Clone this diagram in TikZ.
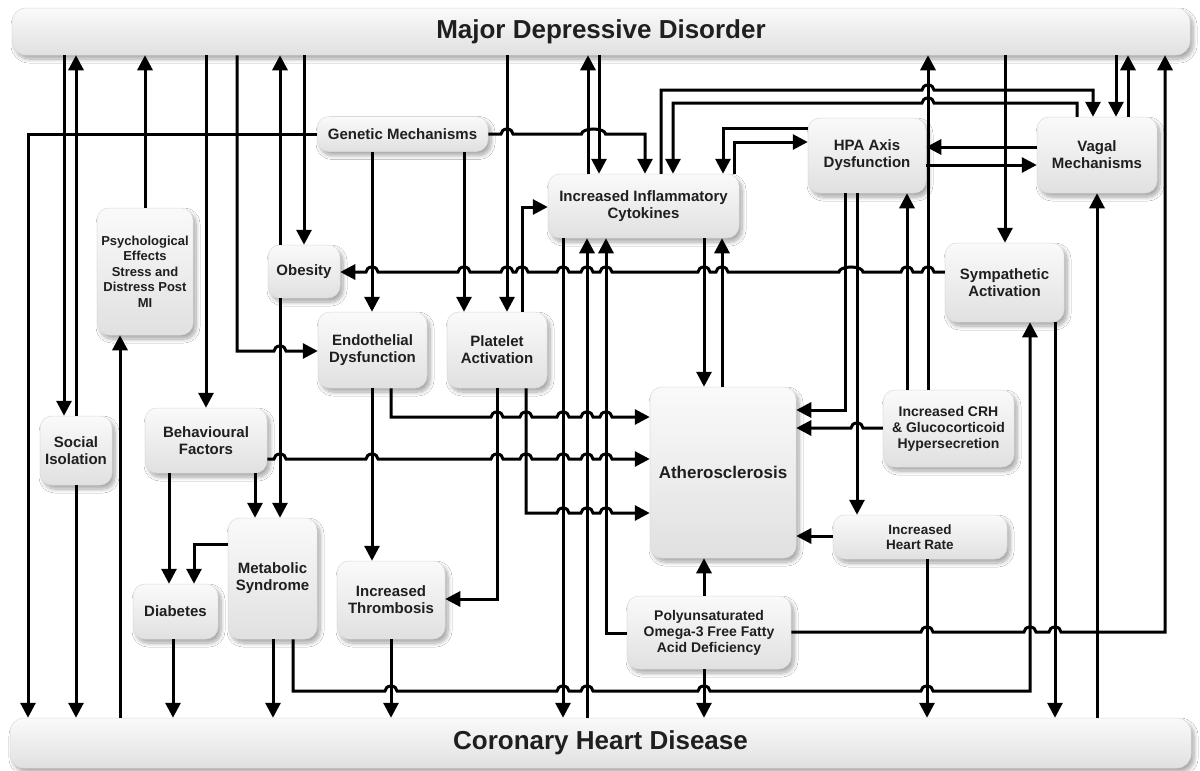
\documentclass[tikz,border=0pt]{standalone}
\usepackage{fontspec}
\setmainfont{Liberation Sans}
\usetikzlibrary{arrows.meta,shadows.blur}

% line hops: small humps where a horizontal connector crosses a vertical one
\newcommand\hopR[2]{-- ({#1-6},#2) arc[start angle=180,end angle=0,x radius=6pt,y radius=5pt]}
\newcommand\hopL[2]{-- ({#1+6},#2) arc[start angle=0,end angle=180,x radius=6pt,y radius=5pt]}
\newcommand\hopRR[2]{-- ({#1-12},#2) arc[start angle=180,end angle=0,x radius=12pt,y radius=5pt]}
\newcommand\hopLL[2]{-- ({#1+12},#2) arc[start angle=0,end angle=180,x radius=12pt,y radius=5pt]}

\tikzset{
  box/.style={rounded corners=12pt, draw=black!14, line width=0.5pt,
    top color=black!2, bottom color=black!12,
    blur shadow={shadow xshift=3pt, shadow yshift=-4pt, shadow blur steps=8,
      shadow opacity=35, shadow blur radius=4pt},
    align=center, font=\fontsize{15}{17}\selectfont\bfseries, text=black!88,
    inner sep=0pt},
  bar/.style={box, rounded corners=14pt, font=\fontsize{26}{30}\selectfont\bfseries},
  link/.style={line width=3pt, draw=black},
  arr/.style={link, -{Triangle[length=15pt,width=15pt]}},
}

\begin{document}
\begin{tikzpicture}[x=1pt,y=-1pt]
\useasboundingbox (0,0) rectangle (1200,771);
\fill[white] (0,0) rectangle (1200,771);

% ---------- nodes ----------
\node[bar, minimum width=1178pt, minimum height=47pt] (mdd) at (601,31.5) {Major Depressive Disorder};
\node[bar, minimum width=1181pt, minimum height=50pt] (chd) at (600.5,743) {Coronary Heart Disease};

\node[box, minimum width=171pt, minimum height=35pt] (gen) at (402.5,134) {Genetic Mechanisms};
\node[box, font=\fontsize{13}{15.5}\selectfont\bfseries, minimum width=96pt, minimum height=127pt] (psy) at (145,271.5) {Psychological\\Effects\\Stress and\\Distress Post\\MI};
\node[box, minimum width=72pt, minimum height=53pt] (obe) at (304,271.5) {Obesity};
\node[box, minimum width=109pt, minimum height=76pt] (endo) at (372.5,350) {Endothelial\\Dysfunction};
\node[box, minimum width=100pt, minimum height=76pt] (plat) at (497,350) {Platelet\\Activation};
\node[box, minimum width=191pt, minimum height=64pt] (cyto) at (643.5,206) {Increased Inflammatory\\Cytokines};
\node[box, minimum width=118pt, minimum height=75pt] (hpa) at (867,155.5) {HPA Axis\\Dysfunction};
\node[box, minimum width=120pt, minimum height=76pt] (vag) at (1097,155) {Vagal\\Mechanisms};
\node[box, minimum width=119pt, minimum height=79pt] (sym) at (1004.5,282.5) {Sympathetic\\Activation};
\node[box, minimum width=72pt, minimum height=69pt] (soc) at (76,450.5) {Social\\Isolation};
\node[box, minimum width=122pt, minimum height=65pt] (beh) at (206,440.5) {Behavioural\\Factors};
\node[box, font=\fontsize{17}{20}\selectfont\bfseries, minimum width=146pt, minimum height=171pt] (ath) at (723,472.5) {Atherosclerosis};
\node[box, font=\fontsize{14}{16}\selectfont\bfseries, minimum width=131pt, minimum height=77pt] (crh) at (948.5,428.5) {Increased CRH\\\& Glucocorticoid\\Hypersecretion};
\node[box, font=\fontsize{13.5}{15}\selectfont\bfseries, minimum width=174pt, minimum height=44pt] (hr) at (920,537) {Increased\\Heart Rate};
\node[box, font=\fontsize{14}{16}\selectfont\bfseries, minimum width=164pt, minimum height=73pt] (ome) at (709,632.5) {Polyunsaturated\\Omega-3 Free Fatty\\Acid Deficiency};
\node[box, minimum width=85pt, minimum height=55pt] (dia) at (175.5,611.5) {Diabetes};
\node[box, minimum width=89pt, minimum height=121pt] (met) at (272.5,578.5) {Metabolic\\Syndrome};
\node[box, minimum width=108pt, minimum height=78pt] (thr) at (391,600) {Increased\\Thrombosis};

% ---------- connectors: left side ----------
\draw[arr] (gen.west) -- (28,134) -- (28,0 |- chd.north);
\draw[arr] (64,0 |- mdd.south) -- (64,0 |- soc.north);
\draw[arr] (76,0 |- soc.north) -- (76,0 |- mdd.south);
\draw[arr] (76,0 |- soc.south) -- (76,0 |- chd.north);
\draw[arr] (145,0 |- psy.north) -- (145,0 |- mdd.south);
\draw[arr] (120,0 |- chd.north) -- (120,0 |- psy.south);
\draw[arr] (206,0 |- mdd.south) -- (206,0 |- beh.north);
\draw[arr] (237,0 |- mdd.south) -- (237,351) \hopR{280}{351} -- (endo.west |- 0,351);
\draw[arr] (280,0 |- obe.north) -- (280,0 |- mdd.south);
\draw[arr] (304,0 |- mdd.south) -- (304,0 |- obe.north);
\draw[arr] (280,0 |- obe.south) -- (280,0 |- met.north);
\draw[arr] (255,0 |- beh.south) -- (255,0 |- met.north);
\draw[arr] (169,0 |- beh.south) -- (169,0 |- dia.north);
\draw[arr] (met.west |- 0,544) -- (194,544) -- (194,0 |- dia.north);
\draw[arr] (173,0 |- dia.south) -- (173,0 |- chd.north);
\draw[arr] (273,0 |- met.south) -- (273,0 |- chd.north);

% ---------- connectors: centre ----------
\draw[arr] (372,0 |- gen.south) -- (372,0 |- endo.north);
\draw[arr] (464,0 |- gen.south) -- (464,0 |- plat.north);
\draw[arr] (507,0 |- mdd.south) -- (507,0 |- plat.north);
\draw[arr] (522,0 |- plat.north) -- (522,207) -- (cyto.west |- 0,207);
\draw[arr] (gen.east) \hopR{507}{134} \hopRR{593.5}{134} -- (645,134) -- (645,0 |- cyto.north);
\draw[arr] (588,0 |- cyto.north) -- (588,0 |- mdd.south);
\draw[arr] (599,0 |- mdd.south) -- (599,0 |- cyto.north);
\draw[arr] (661,0 |- cyto.north) -- (661,90) \hopR{928}{90} -- (1093,90) -- (1093,0 |- vag.north);
\draw[arr] (1077,0 |- vag.north) -- (1077,103) \hopL{928}{103} -- (673,103) -- (673,0 |- cyto.north);
\draw[arr] (hpa.west |- 0,128) -- (723,128) -- (723,0 |- cyto.north);
\draw[arr] (734,0 |- cyto.north) -- (734,142) -- (hpa.west |- 0,142);
\draw[arr] (563,0 |- cyto.south) -- (563,0 |- chd.north);
\draw[arr] (587,0 |- chd.north) -- (587,0 |- cyto.south);
\draw[arr] (ome.west |- 0,633) -- (606,633) -- (606,0 |- cyto.south);
\draw[arr] (704,0 |- cyto.south) -- (704,0 |- ath.north);
\draw[arr] (722,0 |- ath.north) -- (722,0 |- cyto.south);
\draw[arr] (391,0 |- endo.south) -- (391,417) \hopR{497}{417} \hopR{526}{417} \hopR{563}{417} \hopR{587}{417} \hopR{606}{417} -- (ath.west |- 0,417);
\draw[arr] (beh.east |- 0,459) \hopR{280}{459} \hopR{372}{459} \hopR{497}{459} \hopR{526}{459} \hopR{563}{459} \hopR{587}{459} \hopR{606}{459} -- (ath.west |- 0,459);
\draw[arr] (526,0 |- plat.south) -- (526,513) \hopR{563}{513} \hopR{587}{513} \hopR{606}{513} -- (ath.west |- 0,513);
\draw[arr] (497,0 |- plat.south) -- (497,599) -- (thr.east |- 0,599);
\draw[arr] (372,0 |- endo.south) -- (372,0 |- thr.north);
\draw[arr] (391,0 |- thr.south) -- (391,0 |- chd.north);
\draw[arr] (704,0 |- ome.north) -- (704,0 |- ath.south);
\draw[arr] (704,0 |- ome.south) -- (704,0 |- chd.north);

% ---------- connectors: right side ----------
\draw[arr] (vag.west |- 0,147) -- (hpa.east |- 0,147);
\draw[arr] (hpa.east |- 0,165) -- (vag.west |- 0,165);
\draw[arr] (928,0 |- crh.north) -- (928,0 |- mdd.south);
\draw[arr] (907,0 |- crh.north) -- (907,0 |- hpa.south);
\draw[arr] (1005,0 |- mdd.south) -- (1005,0 |- sym.north);
\draw[arr] (1116,0 |- mdd.south) -- (1116,0 |- vag.north);
\draw[arr] (1128,0 |- vag.north) -- (1128,0 |- mdd.south);
\draw[arr] (1097,0 |- chd.north) -- (1097,0 |- vag.south);
\draw[arr] (845,0 |- hpa.south) -- (845,410) -- (ath.east |- 0,410);
\draw[arr] (857,0 |- hpa.south) -- (857,0 |- hr.north);
\draw[arr] (crh.west |- 0,428) \hopL{857}{428} -- (ath.east |- 0,428);
\draw[arr] (hr.west |- 0,536) -- (ath.east |- 0,536);
\draw[arr] (927,0 |- hr.south) -- (927,0 |- chd.north);
\draw[arr] (1055,0 |- sym.south) -- (1055,0 |- chd.north);

% long crossing connectors
\draw[arr] (sym.west |- 0,272) \hopL{928}{272} \hopL{907}{272} \hopLL{851}{272} \hopL{722}{272} \hopL{704}{272} \hopL{606}{272} \hopL{587}{272} \hopL{563}{272} \hopL{522}{272} \hopL{507}{272} \hopL{464}{272} \hopL{372}{272} -- (obe.east |- 0,272);
\draw[arr] (ome.east |- 0,632) \hopR{927}{632} \hopR{1030}{632} \hopR{1055}{632} -- (1165,632) -- (1165,0 |- mdd.south);
\draw[arr] (293,0 |- met.south) -- (293,691) \hopR{391}{691} \hopR{563}{691} \hopR{587}{691} \hopR{704}{691} \hopR{927}{691} -- (1030,691) -- (1030,0 |- sym.south);
\end{tikzpicture}
\end{document}
